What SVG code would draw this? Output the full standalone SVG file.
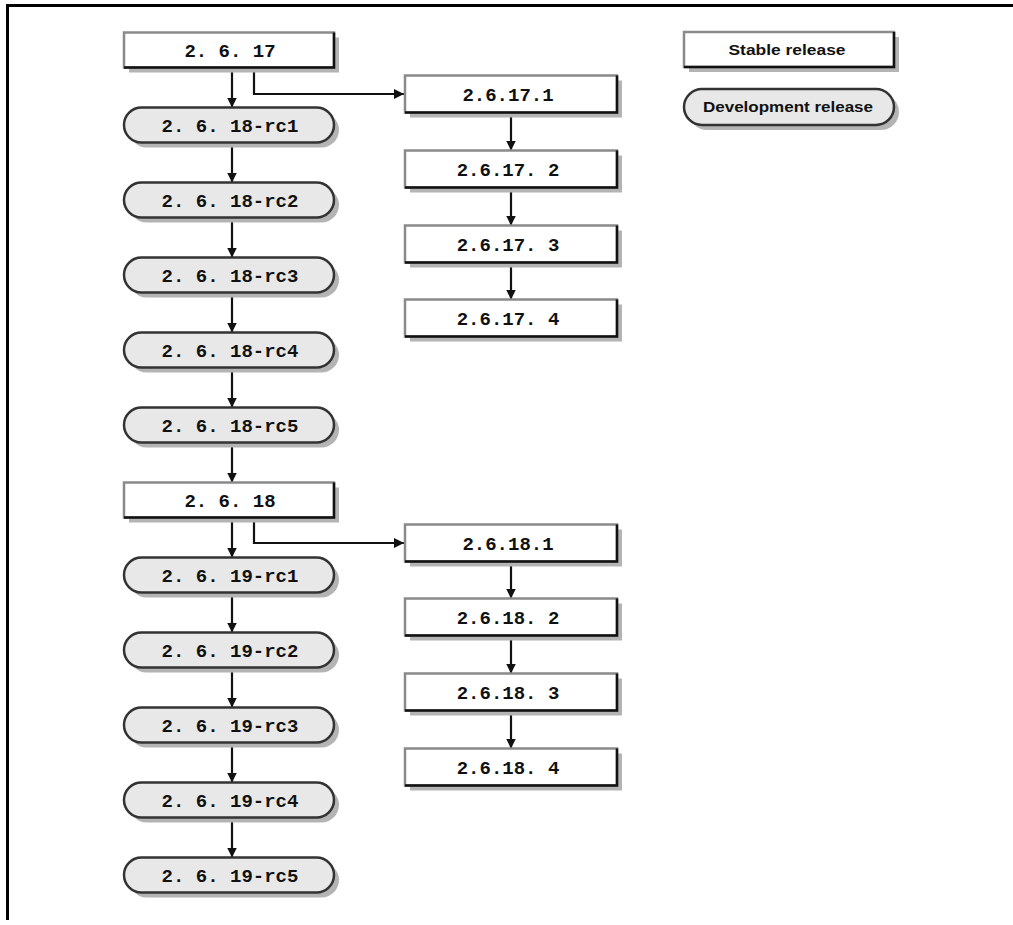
<svg xmlns="http://www.w3.org/2000/svg" width="1013" height="925" viewBox="0 0 1013 925">
<defs>
<marker id="ah" viewBox="0 0 10 10" refX="10" refY="5" markerWidth="10" markerHeight="10" markerUnits="userSpaceOnUse" orient="auto">
<path d="M0,0 L10,5 L0,10 z" fill="#111"/>
</marker>
</defs>
<style>
.shadow{fill:#b4b4b4}
.rect{fill:#ffffff;stroke:#8a8a8a;stroke-width:2.5}
.edge{fill:none;stroke:#111;stroke-width:2.5}
.pill{fill:#e8e8e8;stroke:#333;stroke-width:2.5}
.lbl{font-family:"Liberation Mono","DejaVu Sans Mono",monospace;font-weight:bold;font-size:19px;fill:#111;text-anchor:middle}
.leg{font-family:"Liberation Sans Narrow","Liberation Sans",sans-serif;font-weight:bold;font-size:15px;fill:#111;text-anchor:middle}
.conn{fill:none;stroke:#111;stroke-width:2.2;marker-end:url(#ah)}
</style>
<rect x="0" y="0" width="1013" height="925" fill="#ffffff"/>
<rect x="6" y="4" width="1007" height="3" fill="#000"/>
<rect x="6" y="4" width="3" height="916" fill="#000"/>

<g id="connectors">
<path class="conn" d="M232,67.5 V107.5"/>
<path class="conn" d="M232,142.5 V182.5"/>
<path class="conn" d="M232,217.5 V257.5"/>
<path class="conn" d="M232,292.5 V332.5"/>
<path class="conn" d="M232,367.5 V407.5"/>
<path class="conn" d="M232,442.5 V482.5"/>
<path class="conn" d="M232,517.5 V557.5"/>
<path class="conn" d="M232,592.5 V632.5"/>
<path class="conn" d="M232,667.5 V707.5"/>
<path class="conn" d="M232,742.5 V782.5"/>
<path class="conn" d="M232,817.5 V857.5"/>
<path class="conn" d="M254,67.5 V94 H404"/>
<path class="conn" d="M254,517.5 V543 H404"/>
<path class="conn" d="M511,112.5 V150.5"/>
<path class="conn" d="M511,187.5 V225.5"/>
<path class="conn" d="M511,262.5 V299.5"/>
<path class="conn" d="M511,561.5 V598.5"/>
<path class="conn" d="M511,635.5 V673.5"/>
<path class="conn" d="M511,710.5 V748.5"/>
</g>

<g id="n-2-6-17">
<rect class="shadow" x="129" y="37.5" width="210" height="35"/>
<rect class="rect" x="124" y="32.5" width="210" height="35"/>
<path class="edge" d="M124,67.5 H334 V32.5"/>
<text class="lbl" x="230" y="56.5">2. 6. 17</text>
</g>
<g id="n-2-6-18-rc1">
<rect class="shadow" x="129" y="112.5" width="210" height="35" rx="17.5"/>
<rect class="pill" x="124" y="107.5" width="210" height="35" rx="17.5"/>
<text class="lbl" x="230" y="131.5">2. 6. 18-rc1</text>
</g>
<g id="n-2-6-18-rc2">
<rect class="shadow" x="129" y="187.5" width="210" height="35" rx="17.5"/>
<rect class="pill" x="124" y="182.5" width="210" height="35" rx="17.5"/>
<text class="lbl" x="230" y="206.5">2. 6. 18-rc2</text>
</g>
<g id="n-2-6-18-rc3">
<rect class="shadow" x="129" y="262.5" width="210" height="35" rx="17.5"/>
<rect class="pill" x="124" y="257.5" width="210" height="35" rx="17.5"/>
<text class="lbl" x="230" y="281.5">2. 6. 18-rc3</text>
</g>
<g id="n-2-6-18-rc4">
<rect class="shadow" x="129" y="337.5" width="210" height="35" rx="17.5"/>
<rect class="pill" x="124" y="332.5" width="210" height="35" rx="17.5"/>
<text class="lbl" x="230" y="356.5">2. 6. 18-rc4</text>
</g>
<g id="n-2-6-18-rc5">
<rect class="shadow" x="129" y="412.5" width="210" height="35" rx="17.5"/>
<rect class="pill" x="124" y="407.5" width="210" height="35" rx="17.5"/>
<text class="lbl" x="230" y="431.5">2. 6. 18-rc5</text>
</g>
<g id="n-2-6-18">
<rect class="shadow" x="129" y="487.5" width="210" height="35"/>
<rect class="rect" x="124" y="482.5" width="210" height="35"/>
<path class="edge" d="M124,517.5 H334 V482.5"/>
<text class="lbl" x="230" y="506.5">2. 6. 18</text>
</g>
<g id="n-2-6-19-rc1">
<rect class="shadow" x="129" y="562.5" width="210" height="35" rx="17.5"/>
<rect class="pill" x="124" y="557.5" width="210" height="35" rx="17.5"/>
<text class="lbl" x="230" y="581.5">2. 6. 19-rc1</text>
</g>
<g id="n-2-6-19-rc2">
<rect class="shadow" x="129" y="637.5" width="210" height="35" rx="17.5"/>
<rect class="pill" x="124" y="632.5" width="210" height="35" rx="17.5"/>
<text class="lbl" x="230" y="656.5">2. 6. 19-rc2</text>
</g>
<g id="n-2-6-19-rc3">
<rect class="shadow" x="129" y="712.5" width="210" height="35" rx="17.5"/>
<rect class="pill" x="124" y="707.5" width="210" height="35" rx="17.5"/>
<text class="lbl" x="230" y="731.5">2. 6. 19-rc3</text>
</g>
<g id="n-2-6-19-rc4">
<rect class="shadow" x="129" y="787.5" width="210" height="35" rx="17.5"/>
<rect class="pill" x="124" y="782.5" width="210" height="35" rx="17.5"/>
<text class="lbl" x="230" y="806.5">2. 6. 19-rc4</text>
</g>
<g id="n-2-6-19-rc5">
<rect class="shadow" x="129" y="862.5" width="210" height="35" rx="17.5"/>
<rect class="pill" x="124" y="857.5" width="210" height="35" rx="17.5"/>
<text class="lbl" x="230" y="881.5">2. 6. 19-rc5</text>
</g>

<g id="n-2-6-17-1">
<rect class="shadow" x="410" y="80.5" width="212" height="37"/>
<rect class="rect" x="405" y="75.5" width="212" height="37"/>
<path class="edge" d="M405,112.5 H617 V75.5"/>
<text class="lbl" x="508" y="100.5">2.6.17.1</text>
</g>
<g id="n-2-6-17-2">
<rect class="shadow" x="410" y="155.5" width="212" height="37"/>
<rect class="rect" x="405" y="150.5" width="212" height="37"/>
<path class="edge" d="M405,187.5 H617 V150.5"/>
<text class="lbl" x="508" y="175.5">2.6.17. 2</text>
</g>
<g id="n-2-6-17-3">
<rect class="shadow" x="410" y="230.5" width="212" height="37"/>
<rect class="rect" x="405" y="225.5" width="212" height="37"/>
<path class="edge" d="M405,262.5 H617 V225.5"/>
<text class="lbl" x="508" y="250.5">2.6.17. 3</text>
</g>
<g id="n-2-6-17-4">
<rect class="shadow" x="410" y="304.5" width="212" height="37"/>
<rect class="rect" x="405" y="299.5" width="212" height="37"/>
<path class="edge" d="M405,336.5 H617 V299.5"/>
<text class="lbl" x="508" y="324.5">2.6.17. 4</text>
</g>
<g id="n-2-6-18-1">
<rect class="shadow" x="410" y="529.5" width="212" height="37"/>
<rect class="rect" x="405" y="524.5" width="212" height="37"/>
<path class="edge" d="M405,561.5 H617 V524.5"/>
<text class="lbl" x="508" y="549.5">2.6.18.1</text>
</g>
<g id="n-2-6-18-2">
<rect class="shadow" x="410" y="603.5" width="212" height="37"/>
<rect class="rect" x="405" y="598.5" width="212" height="37"/>
<path class="edge" d="M405,635.5 H617 V598.5"/>
<text class="lbl" x="508" y="623.5">2.6.18. 2</text>
</g>
<g id="n-2-6-18-3">
<rect class="shadow" x="410" y="678.5" width="212" height="37"/>
<rect class="rect" x="405" y="673.5" width="212" height="37"/>
<path class="edge" d="M405,710.5 H617 V673.5"/>
<text class="lbl" x="508" y="698.5">2.6.18. 3</text>
</g>
<g id="n-2-6-18-4">
<rect class="shadow" x="410" y="753.5" width="212" height="37"/>
<rect class="rect" x="405" y="748.5" width="212" height="37"/>
<path class="edge" d="M405,785.5 H617 V748.5"/>
<text class="lbl" x="508" y="773.5">2.6.18. 4</text>
</g>

<g id="legend-stable">
<rect class="shadow" x="689" y="37" width="210" height="35"/>
<rect class="rect" x="684" y="32" width="210" height="35"/>
<path class="edge" d="M684,67 H894 V32"/>
<text class="leg" x="787" y="55" textLength="117" lengthAdjust="spacingAndGlyphs">Stable release</text>
</g>
<g id="legend-development">
<rect class="shadow" x="689" y="94" width="210" height="36" rx="18"/>
<rect class="pill" x="684" y="89" width="210" height="36" rx="18"/>
<text class="leg" x="788" y="112" textLength="170" lengthAdjust="spacingAndGlyphs">Development release</text>
</g>
</svg>
